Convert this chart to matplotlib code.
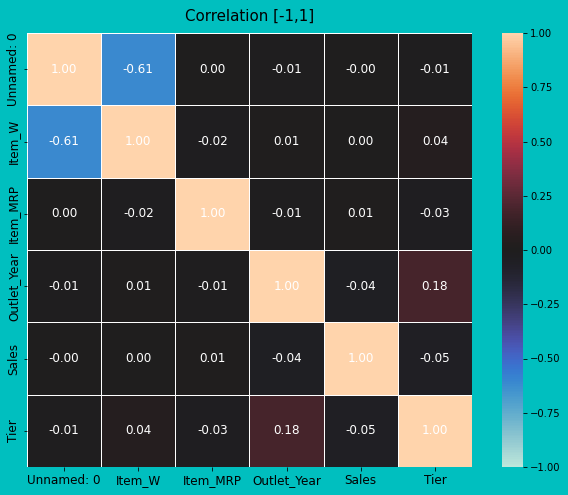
import numpy as np
import pandas as pd
import matplotlib
matplotlib.use("Agg")
import matplotlib.pyplot as plt
import seaborn as sns

labels = ["Unnamed: 0", "Item_W", "Item_MRP", "Outlet_Year", "Sales", "Tier"]
row_unnamed = [1.00, -0.61, 0.00, -0.01, -0.001, -0.01]
row_item_w = [-0.61, 1.00, -0.02, 0.01, 0.001, 0.04]
row_item_mrp = [0.00, -0.02, 1.00, -0.01, 0.01, -0.03]
row_outlet_year = [-0.01, 0.01, -0.01, 1.00, -0.04, 0.18]
row_sales = [-0.001, 0.001, 0.01, -0.04, 1.00, -0.05]
row_tier = [-0.01, 0.04, -0.03, 0.18, -0.05, 1.00]

corr = pd.DataFrame([row_unnamed, row_item_w, row_item_mrp,
                     row_outlet_year, row_sales, row_tier],
                    index=labels, columns=labels)

bg = "#00BFBF"
fig = plt.figure(figsize=(568 / 72, 495 / 72), dpi=72, facecolor=bg)
ax = fig.add_axes([27 / 568, 1 - 467 / 495, (472 - 27) / 568, (467 - 33) / 495])
cax = fig.add_axes([502 / 568, 1 - 467 / 495, (523 - 502) / 568, (467 - 33) / 495])

sns.heatmap(corr, ax=ax, cbar_ax=cax, cmap="icefire", vmin=-1, vmax=1,
            annot=True, fmt=".2f", linewidths=1, linecolor="white",
            annot_kws={"color": "white", "fontsize": 12})

ax.set_title("Correlation [-1,1]", fontsize=15, pad=12)
ax.tick_params(labelsize=12)
cax.tick_params(labelsize=10)

fig.savefig("out.png", dpi=72, facecolor=bg)
